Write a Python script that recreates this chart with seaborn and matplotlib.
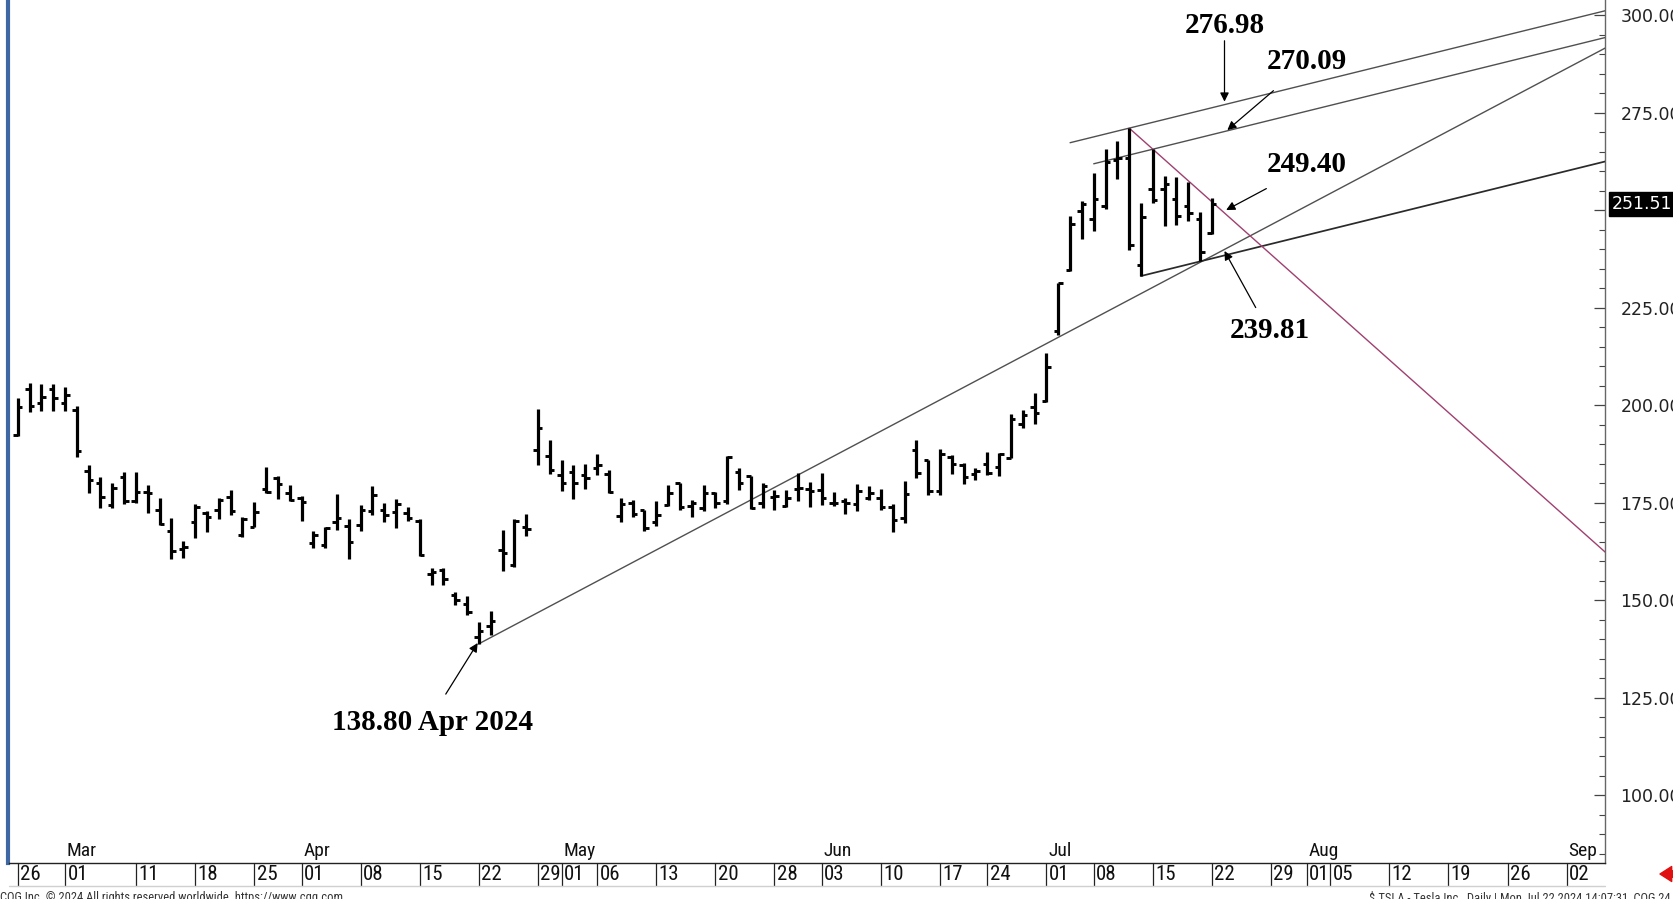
import numpy as np
import pandas as pd
import seaborn as sns
import matplotlib
matplotlib.use("Agg")
import matplotlib.pyplot as plt
from matplotlib import font_manager
from matplotlib.ticker import FuncFormatter
from matplotlib.transforms import blended_transform_factory

# ---------------- data (TSLA daily, Feb 26 - Jul 22 2024) ----------------
opens = [192.29, 204.04, 200.42, 204.18, 200.52, 198.73, 183.05, 179.99, 174.35, 181.50,
         175.45, 177.77, 173.05, 167.77, 163.16, 170.02, 172.36, 173.00, 176.39, 166.69,
         168.76, 178.58, 181.41, 177.45, 176.17, 164.75, 164.02, 170.07, 169.08,
         169.34, 172.91, 173.04, 172.55, 172.34, 170.24, 156.74, 157.64, 151.25, 148.97,
         140.56, 143.33, 162.84, 158.96, 168.85, 188.42, 186.98, 182.00, 182.86, 182.10,
         183.80, 182.40, 171.59, 175.01, 173.05, 170.00, 174.50, 179.90, 174.10, 173.55,
         177.56, 175.51, 182.85, 181.80, 174.84, 176.40, 174.19, 178.58, 178.50,
         178.13, 174.78, 175.35, 174.60, 176.13, 176.06, 173.92, 171.12, 188.39, 185.80,
         177.92, 186.56, 184.68, 182.30, 184.97, 184.10, 186.54, 195.17, 199.55,
         201.02, 218.89, 234.56, 249.81, 247.71, 251.00, 262.80, 263.30, 235.80,
         255.31, 255.31, 252.73, 251.09, 247.79, 244.21]
highs = [201.78, 205.60, 205.30, 205.28, 204.52, 199.75, 184.59, 181.58, 180.04, 182.73,
         182.87, 179.43, 176.05, 171.17, 165.18, 174.72, 172.82, 176.25, 178.18, 171.20,
         175.24, 184.25, 181.91, 179.57, 176.75, 167.69, 168.82, 177.19, 170.86,
         174.50, 179.22, 174.93, 175.88, 173.81, 170.69, 158.19, 158.33, 152.20, 150.94,
         144.44, 147.26, 167.97, 170.88, 172.12, 198.87, 190.95, 185.86, 184.60, 184.78,
         187.56, 183.26, 176.06, 175.62, 173.06, 175.40, 179.49, 180.00, 175.79, 179.63,
         177.75, 186.88, 183.80, 181.90, 180.08, 178.25, 178.15, 182.67, 180.32,
         182.64, 177.76, 176.15, 179.73, 179.35, 178.57, 174.75, 180.55, 191.08, 186.00,
         188.81, 187.20, 185.21, 183.95, 187.97, 187.60, 197.76, 198.72, 203.20,
         213.23, 231.30, 248.35, 252.37, 259.44, 265.61, 267.59, 271.00, 251.84,
         265.60, 258.62, 258.47, 257.14, 249.44, 253.21]
lows = [192.00, 198.26, 198.44, 198.45, 198.50, 186.72, 177.57, 173.70, 173.70, 174.70,
        174.80, 172.41, 169.15, 160.51, 160.76, 165.90, 167.42, 170.82, 171.80, 166.30,
        168.73, 177.38, 176.00, 175.30, 170.21, 163.43, 163.28, 168.01, 160.51,
        167.79, 171.92, 170.01, 168.51, 170.36, 161.38, 153.75, 153.78, 148.70, 146.22,
        138.80, 141.11, 157.51, 158.36, 166.37, 184.54, 182.33, 178.08, 176.02, 178.42,
        182.20, 177.40, 170.15, 171.37, 167.75, 169.00, 174.07, 173.11, 171.43, 172.75,
        173.52, 174.71, 178.12, 173.26, 173.73, 173.16, 173.93, 175.38, 173.82,
        174.49, 174.00, 172.13, 172.73, 175.58, 173.17, 167.41, 169.80, 181.23, 176.92,
        177.00, 182.37, 179.66, 180.69, 182.01, 181.80, 186.36, 194.05, 195.26,
        200.85, 218.06, 234.25, 242.46, 244.57, 250.30, 257.86, 239.65, 233.09,
        251.73, 245.80, 246.18, 247.20, 236.83, 243.75]
closes = [199.40, 199.73, 202.04, 201.88, 202.64, 188.14, 180.74, 176.54, 178.65, 175.34,
          177.77, 177.54, 169.48, 162.50, 163.57, 173.80, 171.32, 175.66, 172.82, 170.83,
          172.63, 177.67, 179.83, 175.79, 175.22, 166.63, 168.38, 171.11, 164.90,
          172.98, 176.88, 171.76, 174.60, 171.05, 161.48, 157.11, 155.45, 149.93, 147.05,
          142.05, 144.68, 162.13, 170.18, 168.29, 194.05, 183.28, 179.99, 180.01, 181.19,
          184.76, 177.81, 174.72, 171.97, 168.47, 171.89, 177.55, 173.99, 174.84, 177.46,
          174.95, 186.60, 180.11, 173.74, 179.24, 176.75, 176.19, 178.79, 178.08,
          176.29, 174.77, 175.00, 177.94, 177.48, 173.79, 170.66, 177.29, 182.47, 178.01,
          187.44, 184.86, 181.57, 183.01, 182.58, 187.35, 196.37, 197.42, 197.88,
          209.86, 231.26, 246.39, 251.52, 252.94, 262.33, 263.26, 241.03, 248.23,
          252.64, 256.56, 248.50, 249.23, 239.20, 251.51]
last_price = 251.51

holidays = ["2024-03-29", "2024-05-27", "2024-06-19", "2024-07-04"]

day_ticks = ["2024-02-26", "2024-03-01", "2024-03-11", "2024-03-18", "2024-03-25",
             "2024-04-01", "2024-04-08", "2024-04-15", "2024-04-22", "2024-04-29",
             "2024-05-01", "2024-05-06", "2024-05-13", "2024-05-20", "2024-05-28",
             "2024-06-03", "2024-06-10", "2024-06-17", "2024-06-24", "2024-07-01",
             "2024-07-08", "2024-07-15", "2024-07-22", "2024-07-29", "2024-08-01",
             "2024-08-05", "2024-08-12", "2024-08-19", "2024-08-26", "2024-09-02"]
day_labels = ["26", "01", "11", "18", "25", "01", "08", "15", "22", "29", "01", "06", "13",
              "20", "28", "03", "10", "17", "24", "01", "08", "15", "22", "29", "01", "05",
              "12", "19", "26", "02"]
month_ticks = ["2024-03-01", "2024-04-01", "2024-05-01", "2024-06-03", "2024-07-01",
               "2024-08-01", "2024-09-02"]
month_labels = ["Mar", "Apr", "May", "Jun", "Jul", "Aug", "Sep"]

# trend lines: (start date, anchor date 1, value 1, anchor date 2, value 2)
trend_main = ("2024-04-22", "2024-04-22", 138.80, "2024-07-23", 239.81)
trend_top = ("2024-07-03", "2024-07-11", 271.00, "2024-07-23", 276.98)
trend_chan = ("2024-07-08", "2024-07-15", 265.60, "2024-07-23", 270.09)
trend_down = ("2024-07-11", "2024-07-11", 271.00, "2024-07-23", 249.40)
trend_short = ("2024-07-12", "2024-07-12", 233.09, "2024-07-19", 236.83)

# callouts
callout_labels = ["276.98", "270.09", "249.40", "239.81", "138.80 Apr 2024"]

# ---------------- style ----------------
sns.set_theme(style="white")
plt.rcParams["font.family"] = ["DejaVu Sans"]
fonts = font_manager.fontManager.ttflist
names = {f.name for f in fonts}
date_font = dict(family="DejaVu Sans")
day_fs, mon_fs = 12.5, 12
if "Liberation Sans Narrow" in names:
    date_font = dict(family="Liberation Sans Narrow")
    day_fs, mon_fs = 16.5, 15
elif "Roboto Condensed" in names:
    date_font = dict(family="Roboto Condensed")
    day_fs, mon_fs = 15, 14
elif any(f.name == "DejaVu Sans" and str(f.stretch) in ("condensed", "semi-condensed")
         for f in fonts):
    date_font = dict(family="DejaVu Sans", fontstretch="condensed")
    day_fs, mon_fs = 14.5, 13.5
serif = "Liberation Serif" if "Liberation Serif" in names else "DejaVu Serif"

# ---------------- calendar positions ----------------
sessions = pd.bdate_range("2024-02-26", "2024-07-22")
sessions = sessions[~sessions.isin(pd.to_datetime(holidays))]
future = pd.bdate_range("2024-07-23", "2024-09-13")
axis_days = sessions.append(future)
pos = {d.strftime("%Y-%m-%d"): i for i, d in enumerate(axis_days)}

W, H = 1674, 899
fig = plt.figure(figsize=(W / 100, H / 100), dpi=100)
fig.patch.set_facecolor("white")
ax = fig.add_axes([8.5 / W, 36 / H, (1605 - 8.5) / W, 863 / H])
ax.set_facecolor("white")

XMIN, XMAX = -0.78, 134.24
YMIN, YMAX = 82.6, 303.85
ax.set_xlim(XMIN, XMAX)
ax.set_ylim(YMIN, YMAX)

# ---------------- OHLC bars ----------------
x = np.arange(len(closes))
tw = 0.38
ax.vlines(x, lows, highs, color="black", lw=2.3, capstyle="butt", zorder=4)
ax.hlines(opens, x - tw, x, color="black", lw=2.1, zorder=4)
ax.hlines(closes, x, x + tw, color="black", lw=2.1, zorder=4)

# ---------------- trend lines ----------------
def draw_trend(spec, color, lw):
    start, d1, v1, d2, v2 = spec
    x1, x2 = pos[d1], pos[d2]
    slope = (v2 - v1) / (x2 - x1)
    xs = np.array([pos[start], XMAX + 0.5])
    ys = v1 + slope * (xs - x1)
    sns.lineplot(x=xs, y=ys, ax=ax, color=color, lw=lw, legend=False, zorder=3,
                 estimator=None, sort=False)

draw_trend(trend_main, "#505050", 1.0)
draw_trend(trend_top, "#505050", 1.0)
draw_trend(trend_chan, "#505050", 1.0)
draw_trend(trend_short, "#2a2a2a", 1.25)
draw_trend(trend_down, "#a04070", 1.0)

# ---------------- callouts ----------------
text_pos = [(102.06, 297.3), (109.0, 288.2), (109.0, 261.7), (105.9, 219.0), (35.07, 118.5)]
tails = [(102.06, 293.4), (106.2, 280.6), (105.6, 255.5), (104.7, 225.0), (36.2, 125.9)]
tips = [(102.06, 277.8), (102.3, 270.5), (102.2, 250.0), (102.06, 239.5), (38.9, 139.0)]
for lab, tp, tl, ti in zip(callout_labels, text_pos, tails, tips):
    ax.text(tp[0], tp[1], lab, ha="center", va="center", fontsize=21, fontweight="bold",
            family=serif, color="black", zorder=6)
    ax.annotate("", xy=ti, xytext=tl,
                arrowprops=dict(arrowstyle="-|>", color="black", lw=0.9,
                                shrinkA=0, shrinkB=0, mutation_scale=13),
                zorder=6)

# ---------------- y axis (right) ----------------
ax.yaxis.tick_right()
ax.set_yticks(np.arange(100, 301, 25))
ax.set_yticks(np.arange(85, 304, 5), minor=True)
# the 250 label sits under the last-price box
ax.yaxis.set_major_formatter(FuncFormatter(lambda v, p: "" if abs(v - 250) < 1e-6 else f"{v:.2f}"))
ax.tick_params(axis="y", which="major", direction="in", length=8, width=0.9, color="#444",
               pad=11, labelsize=12.5, labelcolor="#222", right=True, left=False,
               labelright=True, labelleft=False)
ax.tick_params(axis="y", which="minor", direction="in", length=4, width=0.8, color="#444",
               right=True, left=False)
ax.set_xticks([])

# last price box
btr = blended_transform_factory(ax.transAxes, ax.transData)
ax.text(1.0045, last_price, f"{last_price:.2f}", transform=btr, ha="left", va="center",
        fontsize=12.5, color="white", zorder=10, clip_on=False,
        bbox=dict(boxstyle="square,pad=0.18", fc="black", ec="black"))

# spines
ax.spines["top"].set_visible(False)
ax.spines["left"].set_color("#3f67a3")
ax.spines["left"].set_linewidth(3.0)
ax.spines["right"].set_color("#666")
ax.spines["right"].set_linewidth(1.0)
ax.spines["bottom"].set_color("#222")
ax.spines["bottom"].set_linewidth(1.0)

# ---------------- date axis ----------------
bx = blended_transform_factory(ax.transData, ax.transAxes)
row_h = 23 / 863
for d, lab in zip(day_ticks, day_labels):
    xi = pos[d]
    ax.plot([xi, xi], [0, -row_h], transform=bx, clip_on=False, color="#222", lw=0.9)
    ax.text(xi + 0.2, -row_h / 2, lab, transform=bx, ha="left", va="center",
            fontsize=day_fs, color="#111", clip_on=False, **date_font)
ax.plot([XMIN, XMAX], [-row_h, -row_h], transform=bx, clip_on=False, color="#d0d0d0", lw=1.0)
for d, lab in zip(month_ticks, month_labels):
    xi = pos[d]
    ax.text(xi + 0.15, 12 / 863, lab, transform=bx, ha="left", va="center",
            fontsize=mon_fs, color="#111", clip_on=False, **date_font)

# ---------------- footer ----------------
fig.text(0.0, 1 - 891 / H, "CQG Inc. \u00a9 2024 All rights reserved worldwide. https://www.cqg.com",
         ha="left", va="top", fontsize=9, color="#333", **date_font)
fig.text(1369 / W, 1 - 891 / H,
         "$.TSLA - Tesla Inc., Daily | Mon Jul 22 2024 14:07:31, CQG 24.12.8072",
         ha="left", va="top", fontsize=9, color="#333", **date_font)
ax.annotate("", xy=(1660, H - 874), xycoords="figure pixels",
            xytext=(1678, H - 874), textcoords="figure pixels",
            arrowprops=dict(arrowstyle="simple,head_width=0.9,head_length=0.7,tail_width=0.4",
                            color="#e01010", shrinkA=0, shrinkB=0, mutation_scale=12))

fig.savefig("out.png", dpi=100, facecolor="white")
